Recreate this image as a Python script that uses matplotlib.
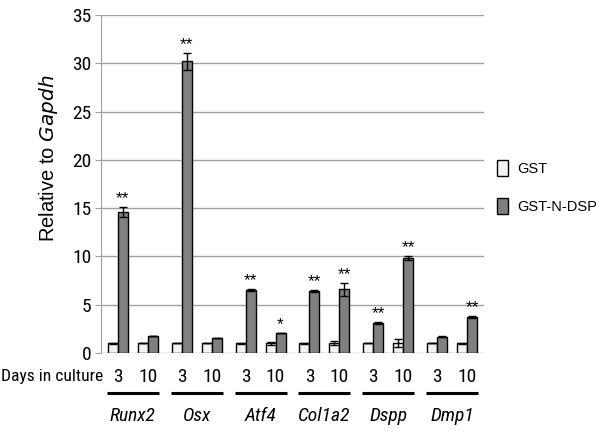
import matplotlib
matplotlib.use("Agg")
import matplotlib.pyplot as plt
import matplotlib.transforms as mtransforms
import numpy as np

genes = ["Runx2", "Osx", "Atf4", "Col1a2", "Dspp", "Dmp1"]
days = ["3", "10"]
# order: gene0-d3, gene0-d10, gene1-d3, ...
gst = [1.0, 1.0, 1.0, 1.0, 1.0, 1.0, 1.0, 1.0, 1.0, 1.0, 1.0, 1.0]
gst_err = [0.05, 0.0, 0.0, 0.0, 0.05, 0.15, 0.05, 0.2, 0.0, 0.4, 0.0, 0.05]
dsp = [14.6, 1.75, 30.2, 1.6, 6.5, 2.05, 6.4, 6.6, 3.1, 9.85, 1.7, 3.7]
dsp_err = [0.5, 0.0, 0.9, 0.0, 0.08, 0.0, 0.12, 0.65, 0.1, 0.2, 0.05, 0.1]
stars = ["**", "", "**", "", "**", "*", "**", "**", "**", "**", "", "**"]
yticks = [0, 5, 10, 15, 20, 25, 30, 35]

narrow = ["Liberation Sans Narrow", "Roboto Condensed", "DejaVu Sans"]
regular = ["Liberation Sans", "DejaVu Sans"]
NS = "condensed"

fig = plt.figure(figsize=(6.02, 4.34), dpi=100)
ax = fig.add_axes([101/602, 1-353/434, (484-101)/602, (353-15)/434])

gene_step = 64
day_step = 30
bw = 10
xs = np.array([g*gene_step + d*day_step for g in range(len(genes)) for d in range(2)], dtype=float)

ax.set_axisbelow(True)
ax.yaxis.grid(True, color="#a0a0a0", lw=1)
ek = dict(ecolor="black", elinewidth=1, capsize=3, capthick=1)
b1 = ax.bar(xs - bw/2, gst, width=bw, color="#f2f2f2", edgecolor="black", lw=1,
            yerr=gst_err, error_kw=ek, label="GST")
b2 = ax.bar(xs + bw/2, dsp, width=bw, color="#808080", edgecolor="black", lw=1,
            yerr=dsp_err, error_kw=ek, label="GST-N-DSP")

for x, v, e, s in zip(xs, dsp, dsp_err, stars):
    if s:
        ax.text(x + bw/2, v + e + 0.1, s, ha="center", va="bottom", fontsize=12.5,
                family=regular)

ax.set_xlim(-17, 5*gene_step + day_step + 17)
ax.set_ylim(0, 35)
ax.set_yticks(yticks)
ax.set_xticks([])
for sp in ["top", "right", "bottom"]:
    ax.spines[sp].set_visible(False)
ax.spines["left"].set_color("#a0a0a0")
ax.tick_params(axis="y", length=4, color="#a0a0a0", labelsize=14, pad=3)
for lab in ax.get_yticklabels():
    lab.set_family(narrow)
    lab.set_stretch(NS)

ax.set_ylabel("Relative to $\\it{Gapdh}$", fontsize=14.5, family=regular)
ax.yaxis.set_label_coords((60-101)/383, (353-158)/338)

tr = mtransforms.blended_transform_factory(ax.transData, fig.transFigure)
for i, x in enumerate(xs):
    ax.text(x, 1-377/434, days[i % 2], transform=tr, ha="center", va="center",
            fontsize=14, family=narrow, stretch=NS, clip_on=False)
for g, name in enumerate(genes):
    x0 = xs[2*g] - 11
    x1 = xs[2*g+1] + 11
    ax.plot([x0, x1], [1-393/434]*2, transform=tr, color="black", lw=2.2,
            clip_on=False, solid_capstyle="butt")
    ax.text((xs[2*g] + xs[2*g+1])/2, 1-416/434, name, transform=tr, ha="center",
            va="center", fontsize=14, family=narrow, stretch=NS, style="italic",
            clip_on=False)
fig.text(1/602, 1-377/434, "Days in culture", ha="left", va="center",
         fontsize=12.6, family=narrow, stretch=NS)

leg = ax.legend(handles=[b1, b2], loc="upper left", bbox_to_anchor=(484/602, 1-147/434),
                bbox_transform=fig.transFigure, frameon=False,
                handlelength=0.75, handleheight=1.3, labelspacing=1.5, handletextpad=0.6,
                prop={"family": regular, "size": 10.5})
fig.savefig("out.png", dpi=100)
